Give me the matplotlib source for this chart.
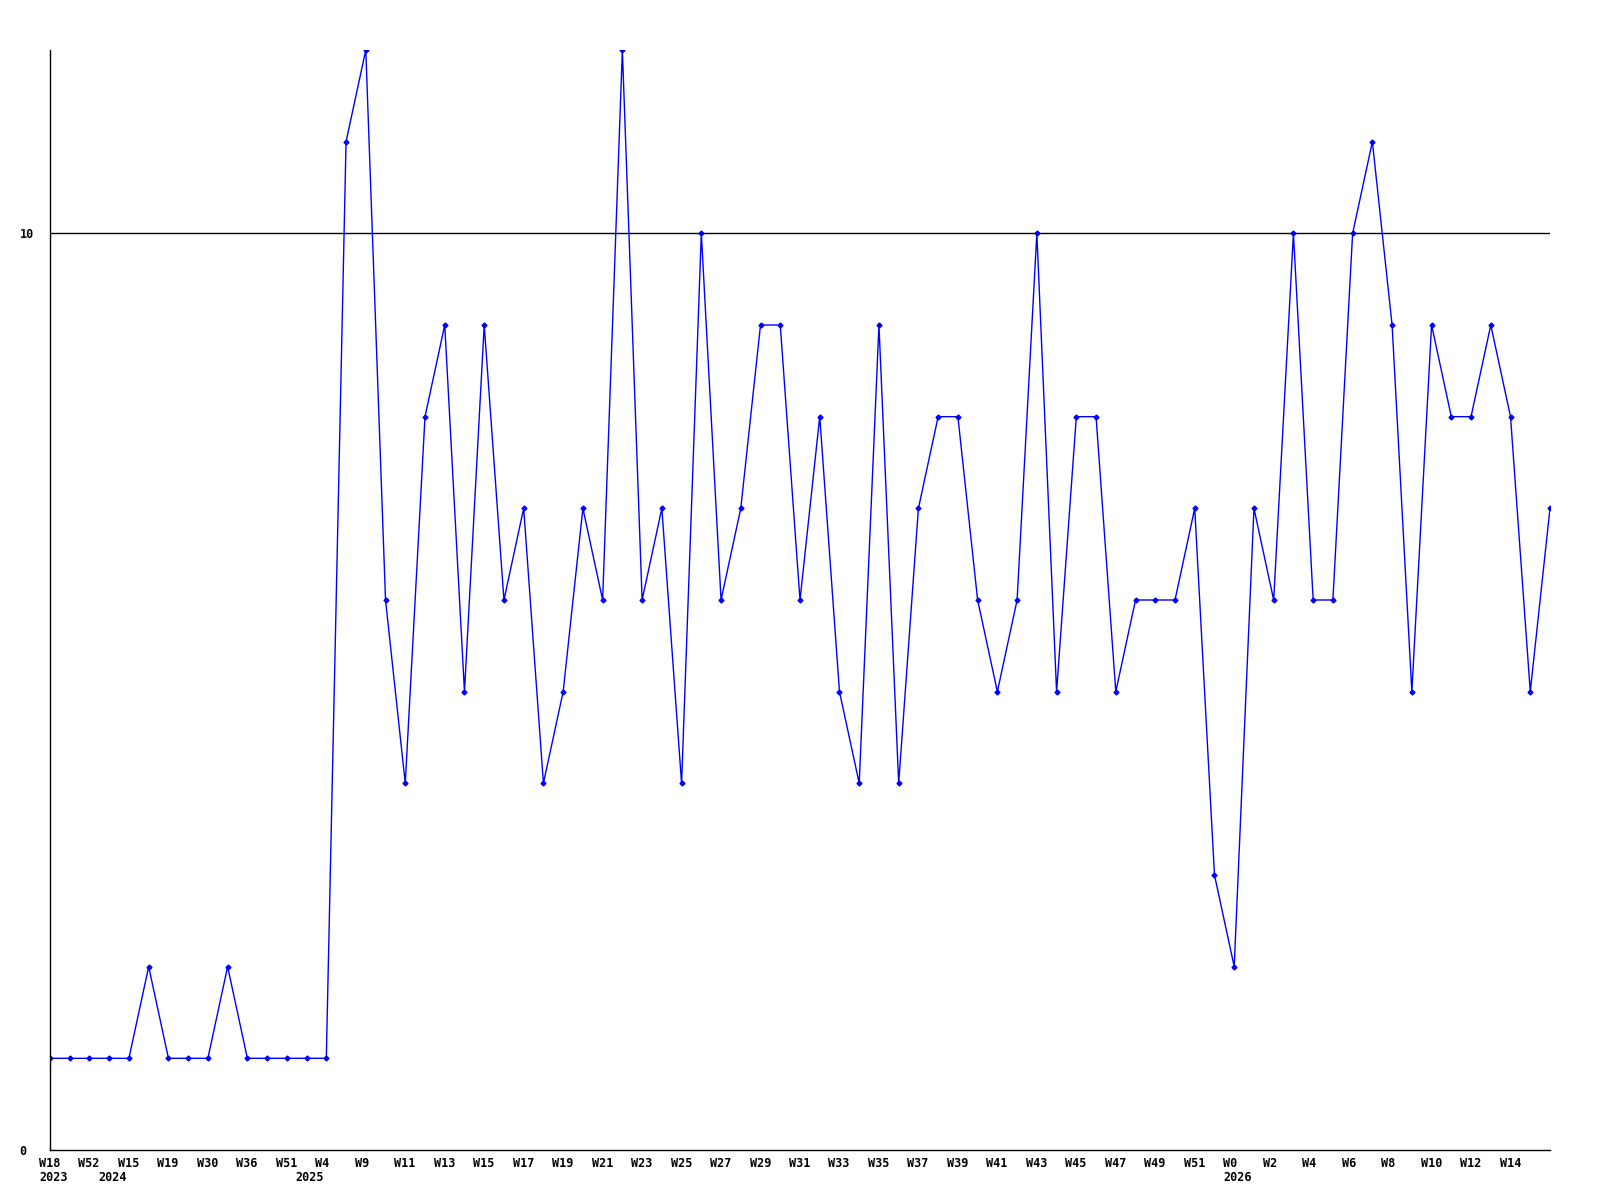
"""Weekly counts from W18 2023 to W16 2026, drawn as a single blue line."""

import matplotlib
matplotlib.use("Agg")
import matplotlib.pyplot as plt
import matplotlib.transforms as mtransforms
import numpy as np


WEEKS = [
    "W18", "W40", "W52", "W2", "W15", "W17", "W19", "W25", "W30", "W33",
    "W36", "W44", "W51", "W1", "W4", "W7", "W9", "W10", "W11", "W12",
    "W13", "W14", "W15", "W16", "W17", "W18", "W19", "W20", "W21", "W22",
    "W23", "W24", "W25", "W26", "W27", "W28", "W29", "W30", "W31", "W32",
    "W33", "W34", "W35", "W36", "W37", "W38", "W39", "W40", "W41", "W42",
    "W43", "W44", "W45", "W46", "W47", "W48", "W49", "W50", "W51", "W52",
    "W0", "W1", "W2", "W3", "W4", "W5", "W6", "W7", "W8", "W9",
    "W10", "W11", "W12", "W13", "W14", "W15", "W16",
]
VALUES = [
    1, 1, 1, 1, 1, 2, 1, 1, 1, 2,
    1, 1, 1, 1, 1, 11, 12, 6, 4, 8,
    9, 5, 9, 6, 7, 4, 5, 7, 6, 12,
    6, 7, 4, 10, 6, 7, 9, 9, 6, 8,
    5, 4, 9, 4, 7, 8, 8, 6, 5, 6,
    10, 5, 8, 8, 5, 6, 6, 6, 7, 3,
    2, 7, 6, 10, 6, 6, 10, 11, 9, 5,
    9, 8, 8, 9, 8, 5, 7,
]
# first point of each year
YEAR_START = [0, 3, 13, 60]
YEARS = ["2023", "2024", "2025", "2026"]
THRESHOLD = 10


def main() -> None:
    fig = plt.figure(figsize=(16, 12), dpi=100)
    ax = fig.add_axes([0.03125, 0.0417, 0.9375, 0.9166])

    x = np.arange(len(VALUES))
    ax.plot(x, VALUES, color="#0000ff", linewidth=1.0,
            marker="D", markersize=2.5)
    ax.axhline(THRESHOLD, color="black", linewidth=1.0, zorder=1)

    ax.set_xlim(0, len(VALUES) - 1)
    ax.set_ylim(0, 12)
    for side in ("top", "right"):
        ax.spines[side].set_visible(False)
    for side in ("left", "bottom"):
        ax.spines[side].set_linewidth(1.0)

    font = dict(family="DejaVu Sans Mono", weight="bold", size=8.5)

    # week labels every second point (last point unlabelled),
    # years under the first week of a year
    ticks = x[:-1:2]
    ax.xaxis.remove_overlapping_locs = False
    ax.set_xticks(ticks)
    ax.set_xticklabels([WEEKS[i] for i in ticks], **font)
    ax.set_xticks(YEAR_START, minor=True)
    ax.set_xticklabels(YEARS, minor=True, **font)
    ax.tick_params(axis="x", which="major", length=0, pad=5)
    ax.tick_params(axis="x", which="minor", length=0, pad=15)

    shift = mtransforms.ScaledTranslation(-11 / 100, 0, fig.dpi_scale_trans)
    for label in ax.get_xticklabels() + ax.get_xticklabels(minor=True):
        label.set_horizontalalignment("left")
        label.set_transform(label.get_transform() + shift)

    ax.set_yticks([0, THRESHOLD])
    ax.set_yticklabels(["0", "10"], **font)
    ax.tick_params(axis="y", length=0, pad=22)
    for label in ax.get_yticklabels():
        label.set_horizontalalignment("left")

    fig.savefig("out.png", dpi=100)


if __name__ == "__main__":
    main()
